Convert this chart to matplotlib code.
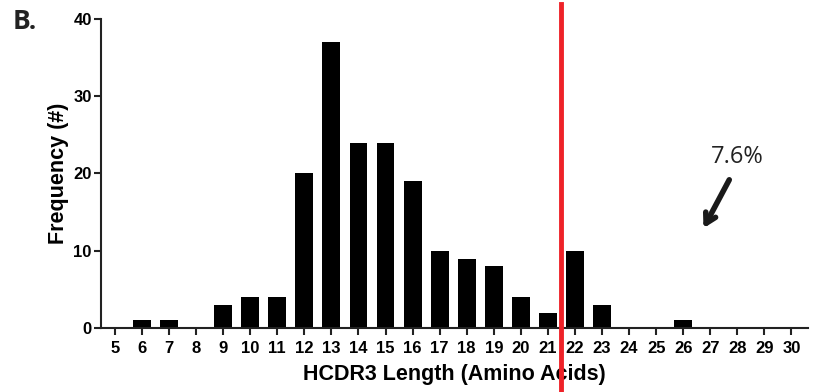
import numpy as np
import matplotlib.pyplot as plt

# HCDR3 length distribution
lengths = [5, 6, 7, 8, 9, 10, 11, 12, 13, 14, 15, 16, 17, 18, 19, 20, 21, 22, 23, 24, 25, 26, 27, 28, 29, 30]
counts = [0, 1, 1, 0, 3, 4, 4, 20, 37, 24, 24, 19, 10, 9, 8, 4, 2, 10, 3, 0, 0, 1, 0, 0, 0, 0]
cutoff = 21.5
pct_label = '7.6%'

plt.rcParams['font.family'] = ['Liberation Sans', 'DejaVu Sans']

fig = plt.figure(figsize=(8.2, 3.92), dpi=100)
ax = fig.add_axes([0.123, 0.163, 0.862, 0.789])

ax.bar(lengths, counts, width=0.66, color='black', zorder=2)

ax.set_xlim(4.48, 30.6)
ax.set_ylim(0, 40)
ax.set_xticks(lengths)
ax.set_yticks([0, 10, 20, 30, 40])

for side in ['top', 'right']:
    ax.spines[side].set_visible(False)
for side in ['left', 'bottom']:
    ax.spines[side].set_linewidth(1.5)
    ax.spines[side].set_color('#222222')

ax.tick_params(axis='both', direction='out', length=5, width=1.5, color='#222222')
ax.tick_params(axis='x', pad=4)
ax.tick_params(axis='y', pad=1.5)
for lab in ax.get_xticklabels() + ax.get_yticklabels():
    lab.set_fontweight('bold')
    lab.set_fontsize(12)

ax.set_xlabel('HCDR3 Length (Amino Acids)', fontsize=15.5, fontweight='bold', labelpad=6)
ax.set_ylabel('Frequency (#)', fontsize=15.5, fontweight='bold', labelpad=3)

# cutoff line spanning beyond the axes
ax.axvline(cutoff, ymin=-0.21, ymax=1.047, color='#ee2228', lw=3.5,
           clip_on=False, zorder=3)

# percentage annotation
ax.text(28.0, 22.1, pct_label, fontsize=17, family=['Open Sans', 'DejaVu Sans'],
        color='#222222', ha='center', va='center')
ax.annotate('', xy=(26.7, 12.6), xytext=(27.75, 19.5),
            arrowprops=dict(arrowstyle='->,head_length=0.7,head_width=0.4',
                            lw=4, color='#1a1a1a'))

fig.text(0.016, 0.945, 'B.', fontsize=19, fontweight='bold',
         family=['Open Sans', 'DejaVu Sans'], color='#222222', va='center')

fig.savefig('out.png', dpi=100)
